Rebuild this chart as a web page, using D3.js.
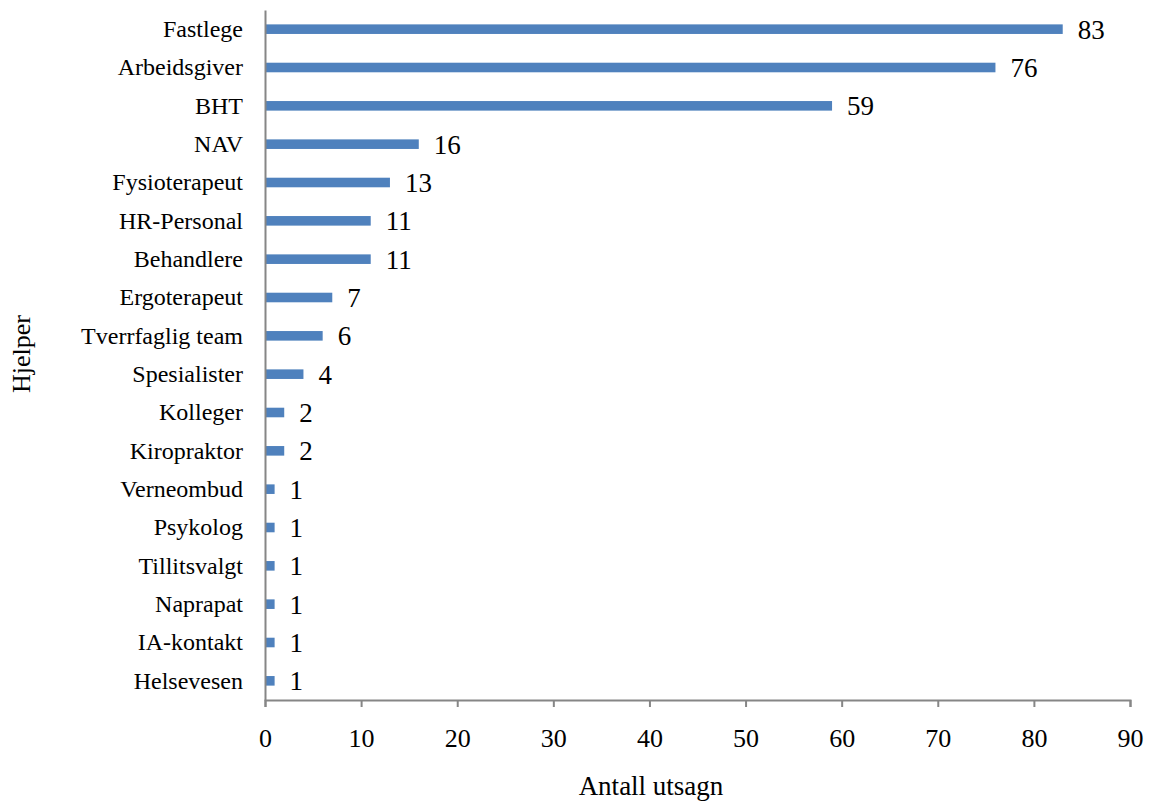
<!DOCTYPE html>
<html>
<head>
<meta charset="utf-8">
<script src="https://cdn.jsdelivr.net/npm/d3@7"></script>
<style>
  html, body { margin: 0; padding: 0; background: #fff; }
  svg { display: block; }
  text { font-family: "Liberation Serif", "Times New Roman", serif; fill: #000; }
</style>
</head>
<body>
<svg id="chart" width="1149" height="801"></svg>
<script>
// Who helped: number of statements per helper
const categories = ["Fastlege", "Arbeidsgiver", "BHT", "NAV", "Fysioterapeut", "HR-Personal",
  "Behandlere", "Ergoterapeut", "Tverrfaglig team", "Spesialister", "Kolleger", "Kiropraktor",
  "Verneombud", "Psykolog", "Tillitsvalgt", "Naprapat", "IA-kontakt", "Helsevesen"];
const values = [83, 76, 59, 16, 13, 11, 11, 7, 6, 4, 2, 2, 1, 1, 1, 1, 1, 1];
const xTicks = [0, 10, 20, 30, 40, 50, 60, 70, 80, 90];
const xTitle = "Antall utsagn";
const yTitle = "Hjelper";

const svg = d3.select("#chart");
const margin = { left: 265, right: 19, top: 10, bottom: 101 };
const W = 1149, H = 801;
const axisColor = "#868686";
const barColor = "#4F81BD";

const x = d3.scaleLinear().domain([0, 90]).range([margin.left, W - margin.right]);
const y = d3.scaleBand().domain(categories).range([margin.top, H - margin.bottom]).paddingInner(0.75).paddingOuter(0.375);

// bars
svg.append("g").selectAll("rect")
  .data(categories)
  .join("rect")
  .attr("x", x(0))
  .attr("y", (d) => y(d))
  .attr("width", (d, i) => x(values[i]) - x(0))
  .attr("height", y.bandwidth())
  .attr("fill", barColor);

// value labels
svg.append("g").selectAll("text")
  .data(categories)
  .join("text")
  .attr("x", (d, i) => x(values[i]) + 15)
  .attr("y", (d) => y(d) + y.bandwidth() / 2)
  .attr("dy", "0.35em")
  .attr("font-size", 27)
  .text((d, i) => values[i]);

// x axis
const xAxis = svg.append("g")
  .attr("transform", `translate(0,${H - margin.bottom})`)
  .call(d3.axisBottom(x).tickValues(xTicks).tickSize(7).tickPadding(22).tickFormat(d3.format("d")));
xAxis.attr("font-size", 26).attr("font-family", "Liberation Serif, serif");
xAxis.select(".domain").attr("stroke", axisColor).attr("stroke-width", 2);
xAxis.selectAll(".tick line").attr("stroke", axisColor).attr("stroke-width", 2);
xAxis.selectAll(".tick text").attr("fill", "#000");

// y axis (category labels)
const yAxis = svg.append("g")
  .attr("transform", `translate(${x(0)},0)`)
  .call(d3.axisLeft(d3.scaleBand().domain(categories).range([margin.top, H - margin.bottom])).tickSize(0).tickPadding(22));
yAxis.attr("font-size", 24).attr("font-family", "Liberation Serif, serif");
yAxis.select(".domain").attr("stroke", axisColor).attr("stroke-width", 2);
yAxis.selectAll(".tick text").attr("fill", "#000");

// axis titles
svg.append("text")
  .attr("x", 651)
  .attr("y", 795)
  .attr("text-anchor", "middle")
  .attr("font-size", 27)
  .text(xTitle);

svg.append("text")
  .attr("transform", "translate(30,354) rotate(-90)")
  .attr("text-anchor", "middle")
  .attr("font-size", 26)
  .text(yTitle);
</script>
</body>
</html>
